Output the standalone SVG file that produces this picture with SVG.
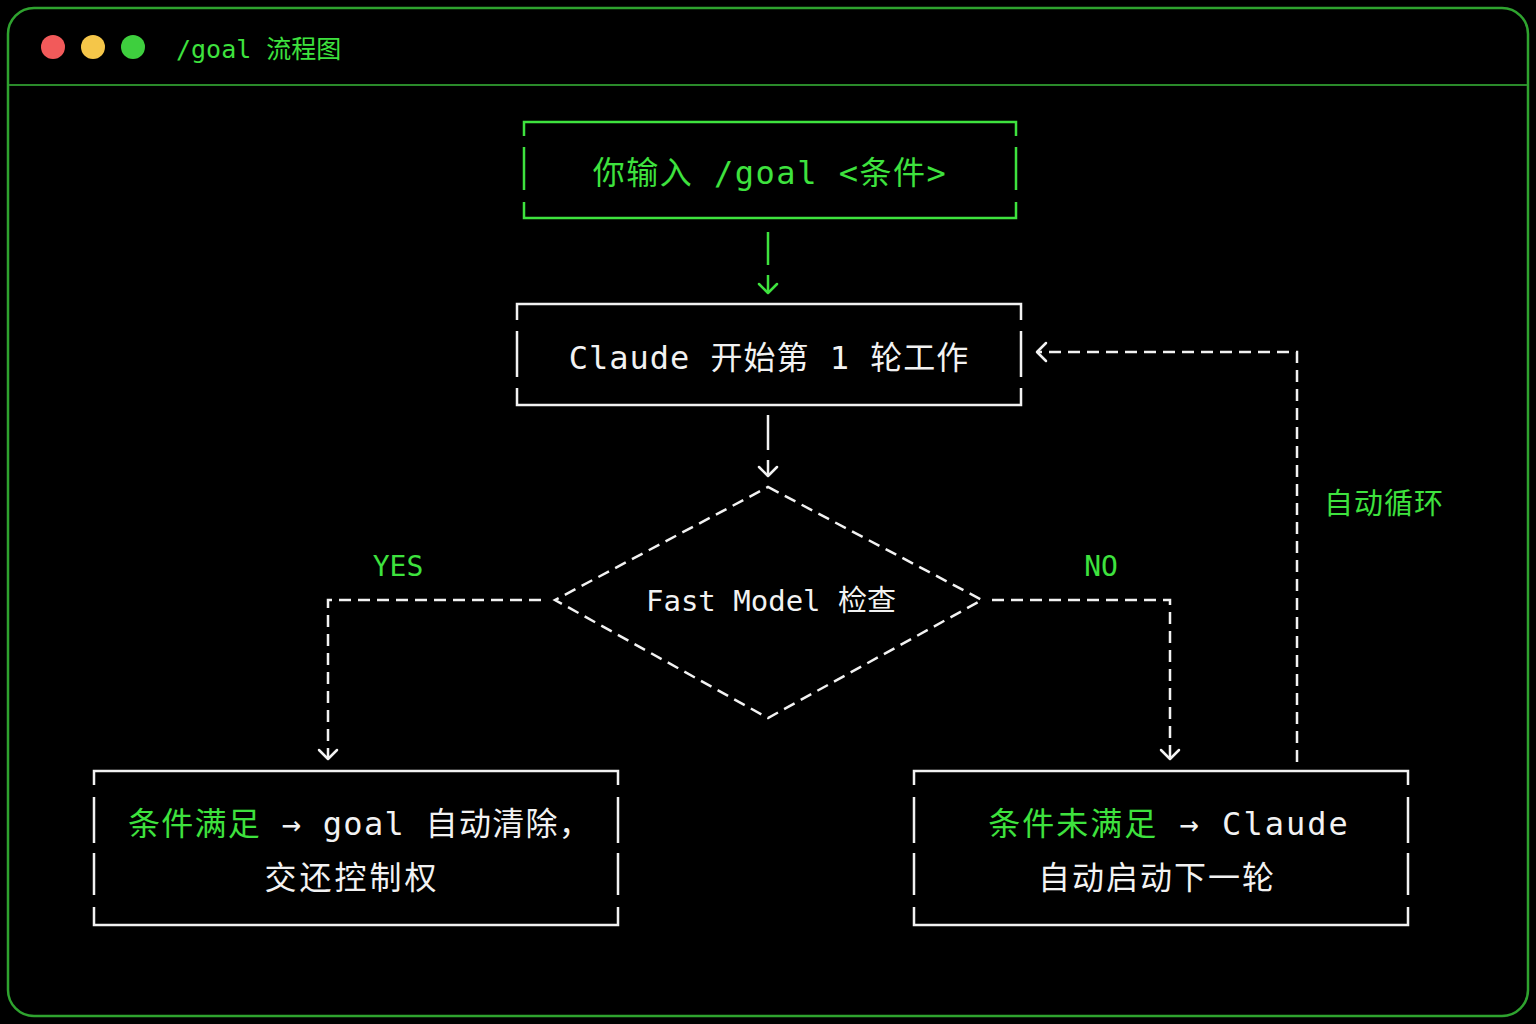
<svg xmlns="http://www.w3.org/2000/svg" width="1536" height="1024" viewBox="0 0 1536 1024">
<style>
.t{font-family:"DejaVu Sans Mono","Noto Sans CJK SC",monospace;}
.g{fill:#3ee23e}.w{fill:#f2f2f2}
.bw{stroke:#f2f2f2;stroke-width:2.5;fill:none}
.bg{stroke:#3ee23e;stroke-width:2.5;fill:none}
.dw{stroke:#f2f2f2;stroke-width:2.5;fill:none;stroke-dasharray:12 7}
.ah{stroke-width:2.5;fill:none;stroke-linecap:round;stroke-linejoin:round}
</style>
<rect width="1536" height="1024" fill="#000"/>
<rect x="8" y="8" width="1520" height="1008" rx="26" fill="#000" stroke="#2fa32f" stroke-width="2.5"/>
<line x1="9" y1="85" x2="1527" y2="85" stroke="#2a8a2a" stroke-width="2"/>
<circle cx="53" cy="47" r="12" fill="#f25a5a"/>
<circle cx="93" cy="47" r="12" fill="#f5c649"/>
<circle cx="133" cy="47" r="12" fill="#3ecf3e"/>
<text class="t g" x="176" y="58" font-size="25">/goal 流程图</text>

<g id="input">
<path class="bg" d="M524 136V122H1016V136M524 147V190M1016 147V190M524 202V218H1016V202"/>
<text class="t g" x="770" y="184" font-size="32" text-anchor="middle" letter-spacing="1.5">你输入 /goal &lt;条件&gt;</text>
</g>
<g id="claude">
<path class="bw" d="M517 320V304H1021V320M517 331V377M1021 331V377M517 388V405H1021V388"/>
<text class="t w" x="769" y="369" font-size="32" text-anchor="middle" letter-spacing="1">Claude 开始第 1 轮工作</text>
</g>
<g id="check">
<path class="dw" d="M768 487L982 600L768 718L555 600Z"/>
<text class="t w" x="771" y="611" font-size="29" text-anchor="middle">Fast Model 检查</text>
</g>
<g id="yes">
<path class="bw" d="M94 785V771H618V785M94 797V843M618 797V843M94 853V895M618 853V895M94 907V925H618V907"/>
<text class="t" x="360" y="835" font-size="32" text-anchor="middle" letter-spacing="1.3"><tspan class="g">条件满足</tspan><tspan class="w"> → goal 自动清除，</tspan></text>
<text class="t w" x="352" y="889" font-size="32" text-anchor="middle" letter-spacing="3">交还控制权</text>
</g>
<g id="no">
<path class="bw" d="M914 785V771H1408V785M914 797V843M1408 797V843M914 853V895M1408 853V895M914 907V925H1408V907"/>
<text class="t" x="1169" y="835" font-size="32" text-anchor="middle" letter-spacing="2"><tspan class="g">条件未满足</tspan><tspan class="w"> → Claude</tspan></text>
<text class="t w" x="1157" y="889" font-size="32" text-anchor="middle" letter-spacing="2">自动启动下一轮</text>
</g>

<g id="connectors">
<line x1="768" y1="232" x2="768" y2="265" stroke="#3ee23e" stroke-width="2.5"/>
<line x1="768" y1="275" x2="768" y2="293" stroke="#3ee23e" stroke-width="2.5"/>
<path class="ah" stroke="#3ee23e" d="M759 284L768 293L777 284"/>
<line x1="768" y1="415" x2="768" y2="450" stroke="#f2f2f2" stroke-width="2.5"/>
<line x1="768" y1="460" x2="768" y2="476" stroke="#f2f2f2" stroke-width="2.5"/>
<path class="ah" stroke="#f2f2f2" d="M759 467L768 476L777 467"/>
<path class="dw" d="M541 600H328V759"/>
<path class="ah" stroke="#f2f2f2" d="M319 750L328 759L337 750"/>
<path class="dw" d="M992 600H1170V759"/>
<path class="ah" stroke="#f2f2f2" d="M1161 750L1170 759L1179 750"/>
<path class="dw" d="M1297 762V352H1037"/>
<path class="ah" stroke="#f2f2f2" d="M1046 343L1037 352L1046 361"/>
<text class="t g" x="398" y="576" font-size="28" text-anchor="middle">YES</text>
<text class="t g" x="1101" y="576" font-size="28" text-anchor="middle">NO</text>
<text class="t g" x="1324" y="514" font-size="29" letter-spacing="1">自动循环</text>
</g>
</svg>
